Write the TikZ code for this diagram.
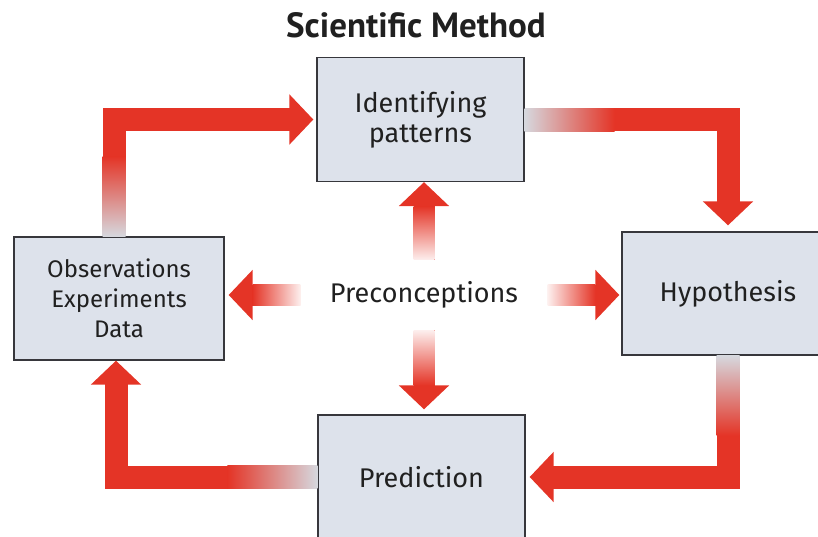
\documentclass[tikz,border=0pt]{standalone}
\usepackage{fontspec}
\setmainfont{Fira Sans}
\newfontfamily\titlefont{PT Sans}
\usetikzlibrary{arrows.meta,calc}
\definecolor{arrowred}{RGB}{228,52,38}
\definecolor{boxfill}{RGB}{221,226,235}
\definecolor{boxline}{RGB}{55,55,60}
\definecolor{fadegray}{RGB}{214,216,222}
\definecolor{ink}{RGB}{32,32,32}

\tikzset{
  box/.style={draw=boxline, line width=1.3pt, fill=boxfill, minimum width=207pt,
    minimum height=124pt, align=center, text=ink, font=\fontsize{27}{30}\selectfont},
  bigarrow/.style={draw=arrowred, line width=23pt, line join=miter,
    -{Triangle[width=49pt,length=24pt]}},
  smallarrow/.style={draw=arrowred, line width=21pt,
    -{Triangle[width=49pt,length=24pt]}},
}

\begin{document}
\begin{tikzpicture}[x=1pt,y=-1pt]
        \useasboundingbox (0,0) rectangle (818,536);
        \clip (0,0) rectangle (818,536);
        % タイトル
        \node[text=ink, font=\titlefont\fontsize{35}{40}\selectfont\bfseries] (title) at (416,25) {Scientific Method};
        % 四つの箱
        \node[box] (pat) at (420.5,119.5) {Identifying\\patterns};
        \node[box, minimum width=210pt, minimum height=123pt, font=\fontsize{24}{30}\selectfont] (obs) at (119,298.5) {Observations\\Experiments\\Data};
        \node[box, minimum width=212pt, minimum height=123pt] (hyp) at (728,293.5) {Hypothesis};
        \node[box] (pred) at (421.5,477) {Prediction};
        % 中央のテキスト
        \node[minimum width=247pt, minimum height=70pt, inner sep=0pt, text=ink, font=\fontsize{27}{30}\selectfont] (pre) at (424,295) {Preconceptions};
        % 外周の矢印
        \draw[bigarrow, shorten >=3pt] ([xshift=-5pt]obs.north) |- (pat.west);
        \draw[bigarrow, shorten >=6pt] (pat.east) -| (hyp.north);
        \draw[bigarrow, shorten >=4pt] (hyp.south) |- (pred.east);
        \draw[bigarrow] (pred.west) -| ([xshift=-3pt]obs.south);
        % 矢印の根元のぼかし
        \shade[bottom color=fadegray, top color=arrowred] ($([xshift=-5pt]obs.north)+(-11.5,0)$) rectangle ($([xshift=-5pt]obs.north)+(11.5,-80)$);
        \shade[left color=fadegray, right color=arrowred] ($(pat.east)+(0,-11.5)$) rectangle ($(pat.east)+(90,11.5)$);
        \shade[top color=fadegray, bottom color=arrowred] ($(hyp.south)+(-11.5,0)$) rectangle ($(hyp.south)+(11.5,80)$);
        \shade[left color=arrowred, right color=fadegray] ($(pred.west)+(-90,-11.5)$) rectangle ($(pred.west)+(0,11.5)$);
        % Preconceptions から出る矢印
        \draw[smallarrow] (pre.north) -- (pre.north |- pat.south);
        \draw[smallarrow, shorten >=5pt] (pre.south) -- (pre.south |- pred.north);
        \draw[smallarrow, shorten >=4pt] (pre.west) -- (pre.west -| obs.east);
        \draw[smallarrow, shorten >=2pt] (pre.east) -- (pre.east -| hyp.west);
        \shade[top color=arrowred, bottom color=arrowred!8] ($(pre.north)+(-10.5,0)$) rectangle ($(pre.north |- pat.south)+(10.5,24)$);
        \shade[bottom color=arrowred, top color=arrowred!8] ($(pre.south)+(-10.5,0)$) rectangle ($(pre.south |- pred.north)+(10.5,-29)$);
        \shade[left color=arrowred, right color=arrowred!8] ($(pre.west -| obs.east)+(28,-10.5)$) rectangle ($(pre.west)+(0,10.5)$);
        \shade[right color=arrowred, left color=arrowred!8] ($(pre.east)+(0,-10.5)$) rectangle ($(pre.east -| hyp.west)+(-26,10.5)$);
    \end{tikzpicture}
\end{document}
